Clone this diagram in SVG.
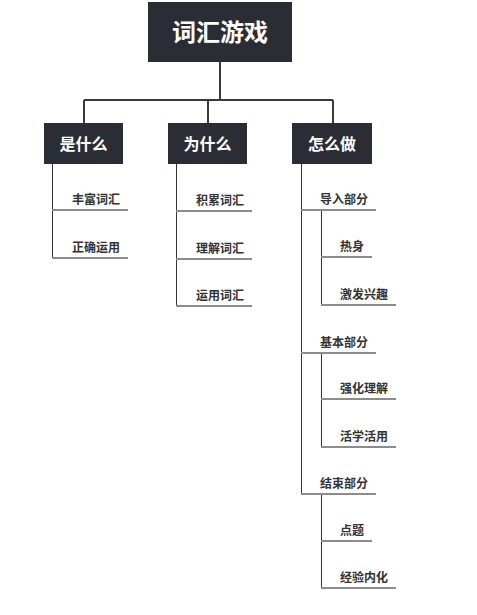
<svg xmlns="http://www.w3.org/2000/svg" width="477" height="615" viewBox="0 0 477 615">
<style>
.box{fill:#2b2d35}
.t1{font-family:"Noto Sans CJK SC","Liberation Sans",sans-serif;font-weight:bold;fill:#ffffff;text-anchor:middle}
.t2{font-family:"Noto Sans CJK SC","Liberation Sans",sans-serif;font-weight:600;font-size:12px;fill:#333333}
.main{stroke:#3a3a3a;stroke-width:2;fill:none}
.thin{stroke:#333333;stroke-width:1;fill:none}
.ul{stroke:#8c8c8c;stroke-width:2;fill:none}
</style>
<rect width="477" height="615" fill="#ffffff"/>
<g id="connectors">
<path class="main" d="M220 62V100M84 100H333M84 100V123M208 100V123M333 100V123"/>
<path class="thin" d="M52.5 164V258M176.5 164V306M301.5 164V494M321.5 210V305M321.5 353V447M321.5 494V588"/>
<path class="ul" d="M52 210H128M52 258H128M176 211H252M176 259H252M176 306H252M301 210H376M321 257H372M321 305H396M301 353H376M321 399H396M321 447H396M301 494H376M321 541H372M321 588H396"/>
</g>
<g id="root"><rect class="box" x="148" y="2" width="144" height="60"/><text class="t1" x="220" y="41" font-size="24">词汇游戏</text></g>
<g id="what"><rect class="box" x="44" y="123" width="79" height="41"/><text class="t1" x="83.5" y="150" font-size="16">是什么</text></g>
<g id="why"><rect class="box" x="168" y="123" width="79" height="41"/><text class="t1" x="207.5" y="150" font-size="16">为什么</text></g>
<g id="how"><rect class="box" x="292" y="123" width="80" height="41"/><text class="t1" x="332" y="150" font-size="16">怎么做</text></g>
<g id="n1"><text class="t2" x="72" y="204">丰富词汇</text></g>
<g id="n2"><text class="t2" x="72" y="252">正确运用</text></g>
<g id="n3"><text class="t2" x="196" y="205">积累词汇</text></g>
<g id="n4"><text class="t2" x="196" y="253">理解词汇</text></g>
<g id="n5"><text class="t2" x="196" y="300">运用词汇</text></g>
<g id="n6"><text class="t2" x="320" y="204">导入部分</text></g>
<g id="n7"><text class="t2" x="340" y="251">热身</text></g>
<g id="n8"><text class="t2" x="340" y="299">激发兴趣</text></g>
<g id="n9"><text class="t2" x="320" y="347">基本部分</text></g>
<g id="n10"><text class="t2" x="340" y="393">强化理解</text></g>
<g id="n11"><text class="t2" x="340" y="441">活学活用</text></g>
<g id="n12"><text class="t2" x="320" y="488">结束部分</text></g>
<g id="n13"><text class="t2" x="340" y="535">点题</text></g>
<g id="n14"><text class="t2" x="340" y="582">经验内化</text></g>
</svg>
